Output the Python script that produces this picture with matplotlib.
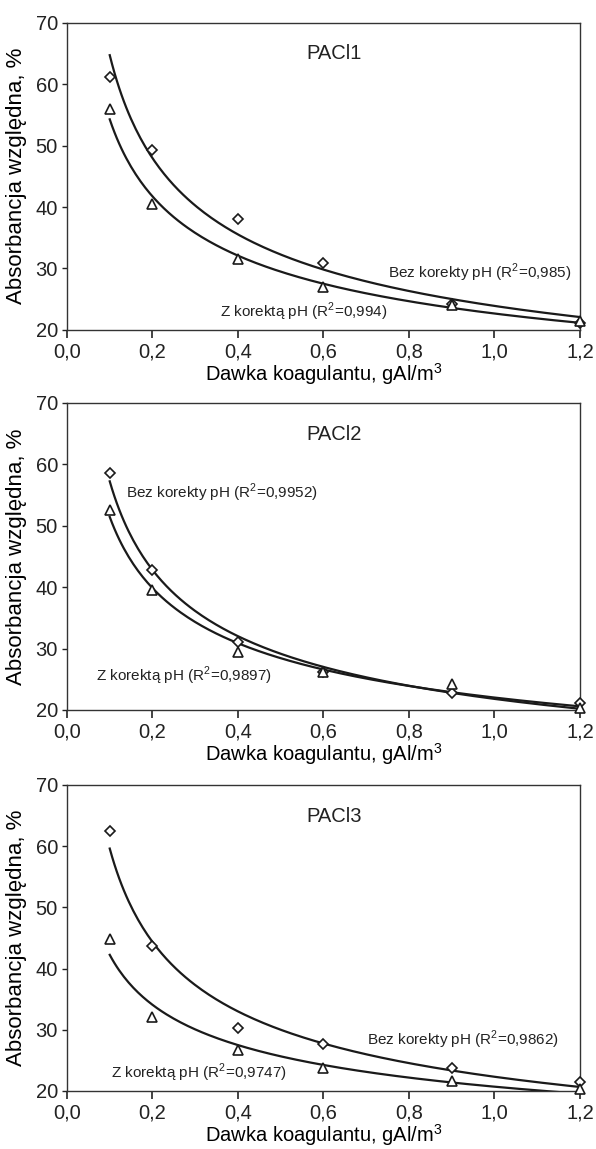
import numpy as np
import matplotlib
matplotlib.use("Agg")
import matplotlib.pyplot as plt

plt.rcParams['font.family'] = ['Liberation Sans', 'DejaVu Sans']
plt.rcParams['mathtext.fontset'] = 'custom'
plt.rcParams['mathtext.rm'] = 'Liberation Sans'
plt.rcParams['text.color'] = '#222222'

# ---- data
dose = [0.1, 0.2, 0.4, 0.6, 0.9, 1.2]

pacl1_bez = [61.2, 49.2, 38.1, 30.9, 24.2, 21.2]
pacl1_z = [56.0, 40.5, 31.6, 27.0, 24.0, 21.5]

pacl2_bez = [58.5, 42.8, 31.1, 26.1, 22.7, 21.1]
pacl2_z = [52.6, 39.6, 29.5, 26.1, 24.2, 20.4]

pacl3_bez = [62.5, 43.7, 30.3, 27.7, 23.7, 21.5]
pacl3_z = [44.9, 32.1, 26.7, 23.7, 21.7, 20.3]

titles = ['PACl1', 'PACl2', 'PACl3']
r2_bez = ['0,985', '0,9952', '0,9862']
r2_z = ['0,994', '0,9897', '0,9747']

xticks = [0.0, 0.2, 0.4, 0.6, 0.8, 1.0, 1.2]
xticklabels = ['0,0', '0,2', '0,4', '0,6', '0,8', '1,0', '1,2']
yticks = [20, 30, 40, 50, 60, 70]

# label positions (data coords)
bez_pos = [(0.751, 29.3), (0.138, 55.3), (0.702, 28.3)]
z_pos = [(0.358, 22.9), (0.067, 25.6), (0.103, 22.9)]

series = [(pacl1_bez, pacl1_z), (pacl2_bez, pacl2_z), (pacl3_bez, pacl3_z)]


def power_fit(x, y):
    """ Excel-style power trendline y = a*x^b (fit in log-log) """
    b, lna = np.polyfit(np.log(x), np.log(y), 1)
    xx = np.linspace(min(x), max(x), 200)
    return xx, np.exp(lna) * xx ** b


fig = plt.figure(figsize=(5.96, 11.49), dpi=100)

# axes rectangles in figure fraction
rects = [(0.1124, 0.7128, 0.8607, 0.2676),
         (0.1124, 0.3821, 0.8607, 0.2674),
         (0.1124, 0.0505, 0.8607, 0.2663)]

for i, rect in enumerate(rects):
    ax = fig.add_axes(rect)
    bez, zk = series[i]

    for yy, mk, ms in ((bez, 'D', 5.2), (zk, '^', 7)):
        xx, ff = power_fit(dose, yy)
        ax.plot(xx, ff, color='#1a1a1a', lw=1.6, zorder=2)
        ax.plot(dose, yy, linestyle='none', marker=mk, ms=ms,
                mfc='white', mec='#1a1a1a', mew=1.2, zorder=3,
                clip_on=False)

    ax.text(0.625, 64.9, titles[i], ha='center', va='center', fontsize=14.5)
    ax.text(bez_pos[i][0], bez_pos[i][1],
            'Bez korekty pH (R$^\\mathrm{2}$=%s)' % r2_bez[i],
            ha='left', va='center', fontsize=11)
    ax.text(z_pos[i][0], z_pos[i][1],
            'Z korektą pH (R$^\\mathrm{2}$=%s)' % r2_z[i],
            ha='left', va='center', fontsize=11)

    ax.set_xlim(0, 1.2)
    ax.set_ylim(20, 70)
    ax.set_xticks(xticks)
    ax.set_xticklabels(xticklabels)
    ax.set_yticks(yticks)
    ax.tick_params(axis='x', direction='out', length=6, width=1.2,
                   pad=3, labelsize=14.5, colors='#222222')
    ax.tick_params(axis='y', direction='out', length=3.5, width=1.0,
                   pad=3, labelsize=14.5, colors='#222222')
    for sp in ax.spines.values():
        sp.set_color('#333333')
        sp.set_linewidth(1.0)

    ax.set_xlabel('Dawka koagulantu, gAl/m$^\\mathrm{3}$', fontsize=14.5,
                  labelpad=0)
    ax.set_ylabel('Absorbancja względna, %', fontsize=16, labelpad=6)

fig.savefig('out.png', dpi=100)
